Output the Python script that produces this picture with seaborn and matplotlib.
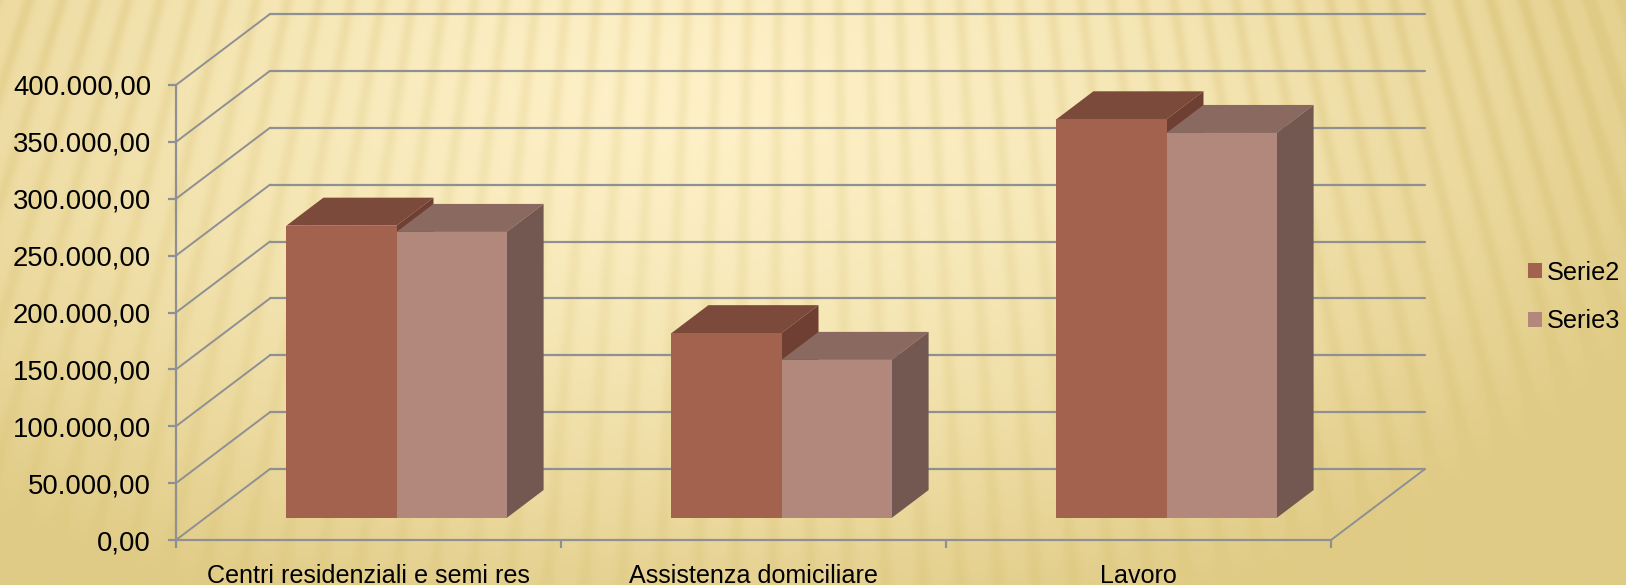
import numpy as np
import pandas as pd
import seaborn as sns
import matplotlib.pyplot as plt
from matplotlib.patches import Polygon

categories = ['Centri residenziali e semi res', 'Assistenza domiciliare', 'Lavoro']
serie2 = [257000, 162500, 350500]
serie3 = [251500, 139000, 338500]
series_names = ['Serie2', 'Serie3']
y_ticks = [0, 50000, 100000, 150000, 200000, 250000, 300000, 350000, 400000]
y_labels = ['0,00', '50.000,00', '100.000,00', '150.000,00', '200.000,00',
            '250.000,00', '300.000,00', '350.000,00', '400.000,00']

W, H = 1626, 585
GRID = '#8e9093'
FRONT = {'Serie2': '#a3624d', 'Serie3': '#b2877c'}
TOP = {'Serie2': '#7c4a3a', 'Serie3': '#8a6a60'}
SIDE = {'Serie2': '#6e3f32', 'Serie3': '#735851'}


def background():
    yy, xx = np.mgrid[0:H, 0:W]
    # soft glow in the upper middle, darker towards the edges
    d = np.sqrt(((xx - 700) / 1050.0) ** 2 + ((yy - 100) / 560.0) ** 2)
    t = np.clip(d, 0, 1) ** 1.5
    # soft stripes fan out from a point far above the slide
    theta = np.arctan2(xx - 800, yy + 2400)
    s = (0.5 + 0.5 * np.sin(theta * 500)) ** 2.5
    s = s * (1 - 0.5 * yy / H) * (1 - 0.5 * np.abs(xx - 800) / 800 * (yy / H))
    light = np.array([254, 241, 200]) / 255
    dark = np.array([224, 203, 133]) / 255
    mix = np.clip(t + 0.30 * s, 0, 1)[..., None]
    return light * (1 - mix) + dark * mix


def px_axes(fig, x0, x1, ybottom, ytop):
    return fig.add_axes([x0 / W, 1 - ybottom / H, (x1 - x0) / W, (ybottom - ytop) / H])


sns.set_theme(style='white')
plt.rcParams['font.family'] = ['Liberation Sans', 'DejaVu Sans']

fig = plt.figure(figsize=(W / 100, H / 100), dpi=100)

bg = fig.add_axes([0, 0, 1, 1])
bg.imshow(background(), aspect='auto')
bg.axis('off')

# front axis, with the walls of the 3D box behind it
ax = px_axes(fig, 176, 1331, 540, 85)
ax.patch.set_alpha(0)
ax.set_xlim(-0.5, 2.5)
ax.set_ylim(0, 400000)
depth_x = 94 / 385.0
depth_y = 71 / 455.0 * 400000

for v in y_ticks:
    ax.plot([-0.5 + depth_x, 2.5 + depth_x], [v + depth_y, v + depth_y],
            color=GRID, lw=1.6, clip_on=False)
    ax.plot([-0.5, -0.5 + depth_x], [v, v + depth_y], color=GRID, lw=1.4, clip_on=False)
ax.plot([2.5, 2.5 + depth_x], [0, depth_y], color=GRID, lw=1.4, clip_on=False)

for s in ['top', 'right']:
    ax.spines[s].set_visible(False)
for s in ['left', 'bottom']:
    ax.spines[s].set_color(GRID)
    ax.spines[s].set_linewidth(1.6)

ax.set_yticks(y_ticks)
ax.set_yticklabels(y_labels)
ax.set_xticks([-0.5, 0.5, 1.5, 2.5])
ax.set_xticklabels([])
ax.set_xticks(range(len(categories)), labels=categories, minor=True)
ax.tick_params(axis='both', which='major', length=6, width=1.6, color=GRID, left=True, bottom=True)
ax.tick_params(axis='y', labelsize=19.8, pad=12, labelcolor='black')
ax.tick_params(axis='x', which='minor', length=0, labelsize=18.1, pad=17, labelcolor='black')

# bars stand on a plane a bit inside the box
ax_bars = px_axes(fig, 204, 1359, 518, 63)
ax_bars.patch.set_alpha(0)

df = pd.DataFrame({
    'categoria': categories * 2,
    'serie': ['Serie2'] * 3 + ['Serie3'] * 3,
    'valore': serie2 + serie3,
})
sns.barplot(data=df, x='categoria', y='valore', hue='serie', hue_order=series_names,
            palette=FRONT, width=0.572, gap=0, saturation=1, legend=False, ax=ax_bars)
ax_bars.set_xlim(-0.5, 2.5)
ax_bars.set_ylim(0, 400000)
ax_bars.axis('off')

bar_dx = 37 / 385.0
bar_dy = 28 / 455.0 * 400000
for i, container in enumerate(ax_bars.containers):
    name = series_names[i]
    for bar in container:
        bar.set_linewidth(0)
        x0, x1, h = bar.get_x(), bar.get_x() + bar.get_width(), bar.get_height()
        top = Polygon([(x0, h), (x1, h), (x1 + bar_dx, h + bar_dy), (x0 + bar_dx, h + bar_dy)],
                      facecolor=TOP[name], lw=0, clip_on=False, zorder=bar.get_zorder() + i - 0.5)
        side = Polygon([(x1, 0), (x1, h), (x1 + bar_dx, h + bar_dy), (x1 + bar_dx, bar_dy)],
                       facecolor=SIDE[name], lw=0, clip_on=False, zorder=bar.get_zorder() + i - 0.5)
        bar.set_zorder(bar.get_zorder() + i)
        ax_bars.add_patch(top)
        ax_bars.add_patch(side)

# legend on the right
handles = [plt.Rectangle((0, 0), 1, 1, facecolor=FRONT[n], lw=0) for n in series_names]
fig.legend(handles, series_names, loc='center left', bbox_to_anchor=(1515.4 / W, 1 - 297 / H),
           frameon=False, fontsize=18.2, handlelength=0.55, handleheight=0.52,
           handletextpad=0.2, labelspacing=0.97, borderpad=0, labelcolor='black')

fig.savefig('out.png', dpi=100)
